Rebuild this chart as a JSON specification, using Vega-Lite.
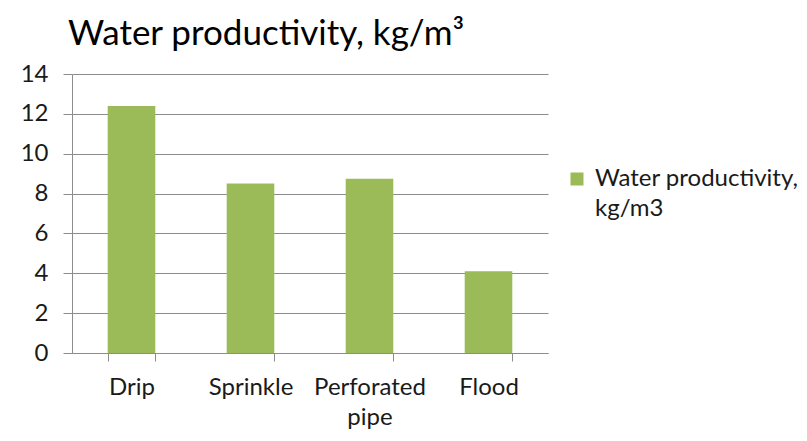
{
  "$schema": "https://vega.github.io/schema/vega-lite/v6.json",
  "width": 476,
  "height": 279,
  "autosize": "none",
  "padding": {"left": 72, "top": 74, "right": 259, "bottom": 88},
  "background": "white",
  "title": {
    "text": "Water productivity, kg/m³",
    "anchor": "start",
    "frame": "group",
    "font": "Lato",
    "fontSize": 35,
    "fontWeight": "normal",
    "color": "#000000",
    "offset": 10,
    "dx": -4
  },
  "data": {
    "values": [
      {"method": "Drip", "value": 12.4, "series": "Water productivity, kg/m3"},
      {"method": "Sprinkle", "value": 8.5, "series": "Water productivity, kg/m3"},
      {"method": "Perforated pipe", "value": 8.75, "series": "Water productivity, kg/m3"},
      {"method": "Flood", "value": 4.1, "series": "Water productivity, kg/m3"}
    ]
  },
  "mark": {"type": "bar"},
  "encoding": {
    "x": {
      "field": "method",
      "type": "nominal",
      "sort": null,
      "scale": {"paddingInner": 0.6, "paddingOuter": 0.3},
      "axis": {
        "title": null,
        "labelAngle": 0,
        "labelExpr": "split(datum.label, ' ')",
        "labelLineHeight": 30,
        "labelFontSize": 24,
        "labelFont": "Lato",
        "labelColor": "#1a1a1a",
        "labelPadding": 14,
        "labelBaseline": "top",
        "tickBand": "extent",
        "tickSize": 8,
        "domainColor": "#8c8c8c",
        "tickColor": "#8c8c8c",
        "grid": false
      }
    },
    "y": {
      "field": "value",
      "type": "quantitative",
      "scale": {"domain": [0, 14]},
      "axis": {
        "title": null,
        "values": [0, 2, 4, 6, 8, 10, 12, 14],
        "grid": true,
        "gridColor": "#8c8c8c",
        "domainColor": "#8c8c8c",
        "tickColor": "#8c8c8c",
        "tickSize": 9,
        "labelPadding": 15,
        "labelFontSize": 24,
        "labelFont": "Lato",
        "labelColor": "#1a1a1a"
      }
    },
    "color": {
      "field": "series",
      "type": "nominal",
      "scale": {"range": ["#9BBB59"]},
      "legend": {
        "title": null,
        "orient": "none",
        "legendX": 493,
        "legendY": 93,
        "padding": 0,
        "symbolType": "square",
        "symbolSize": 169,
        "symbolStrokeWidth": 0,
        "labelOffset": 6,
        "labelFontSize": 24,
        "labelFont": "Lato",
        "labelColor": "#1a1a1a",
        "labelLimit": 400,
        "labelExpr": "['Water productivity,', 'kg/m3']",
        "encode": {"labels": {"update": {"lineHeight": {"value": 30}}}}
      }
    }
  },
  "config": {"view": {"stroke": null}, "font": "Lato"}
}
